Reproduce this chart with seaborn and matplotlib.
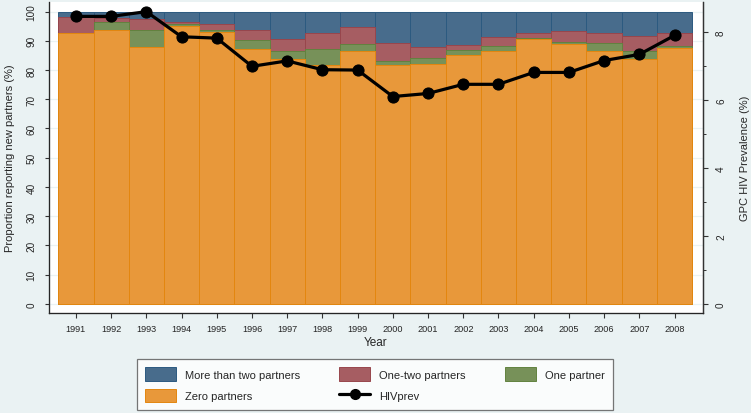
import numpy as np
import pandas as pd
import matplotlib
matplotlib.use("Agg")
import matplotlib.pyplot as plt
from matplotlib.patches import Patch
from matplotlib.lines import Line2D
from matplotlib.ticker import MultipleLocator
import seaborn as sns

# Data
years = list(range(1991, 2009))
zero_partners = [92.6, 93.7, 88.0, 95.2, 92.9, 87.1, 83.7, 81.8, 86.5,
                 81.7, 82.0, 85.3, 86.4, 90.6, 88.8, 86.5, 83.8, 87.5]
one_partner = [0.0, 2.9, 5.7, 0.6, 0.9, 3.3, 2.9, 5.4, 2.5,
               1.5, 2.0, 1.7, 2.0, 0.3, 0.9, 2.7, 2.6, 0.9]
one_two_partners = [5.5, 1.2, 3.8, 0.8, 2.1, 3.3, 4.2, 5.4, 5.8,
                    6.0, 3.8, 1.7, 2.8, 1.7, 3.6, 3.5, 5.2, 4.3]
more_than_two = [1.9, 2.2, 2.5, 3.4, 4.1, 6.3, 9.2, 7.4, 5.2,
                 10.8, 12.2, 11.3, 8.8, 7.4, 6.7, 7.3, 8.4, 7.3]
hiv_prev = [8.46, 8.46, 8.60, 7.86, 7.82, 6.99, 7.15, 6.89, 6.88,
            6.10, 6.19, 6.46, 6.46, 6.81, 6.81, 7.16, 7.34, 7.90]

df = pd.DataFrame({
    "year": [str(y) for y in years],
    "zero": zero_partners,
    "one": one_partner,
    "onetwo": one_two_partners,
    "more": more_than_two,
    "hiv": hiv_prev,
})
df["c1"] = df["zero"]
df["c2"] = df["c1"] + df["one"]
df["c3"] = df["c2"] + df["onetwo"]
df["c4"] = df["c3"] + df["more"]

sns.set_style("white")
plt.rcParams["font.family"] = ["Liberation Sans", "DejaVu Sans"]

bg = "#EAF2F3"
# (fill, outline) pairs, Stata s2color look
layers = [
    ("c4", "#486C8C", "#2C5A80", "More than two partners"),
    ("c3", "#A65D62", "#98464C", "One-two partners"),
    ("c2", "#779159", "#62823F", "One partner"),
    ("c1", "#E8983A", "#E3860F", "Zero partners"),
]

fig = plt.figure(figsize=(7.51, 4.14), dpi=100, facecolor=bg)
ax = fig.add_axes([49 / 751, (414 - 314) / 414, 653.7 / 751, 311 / 414])
ax.set_facecolor("white")

for col, fill, edge, _ in layers:
    sns.barplot(data=df, x="year", y=col, color=fill, saturation=1, width=1,
                edgecolor=edge, linewidth=0.7, ax=ax, zorder=2)

ax.set_xlim(-0.764, 17.8)
ax.set_ylim(-3.18, 103.3)
ax.set_yticks(np.arange(0, 101, 10))
ax.yaxis.grid(True, color=bg, linewidth=0.9, zorder=0)
ax.set_axisbelow(True)
ax.tick_params(axis="y", labelsize=7.2, length=3, width=0.8, color="#333333",
               pad=6, labelrotation=90, direction="out", left=True)
ax.tick_params(axis="x", labelsize=6.6, length=3.6, width=0.8, color="#333333",
               pad=4.5, direction="out", bottom=True)
for lab in ax.get_yticklabels():
    lab.set_va("center")
ax.set_xlabel("Year", fontsize=8.5, labelpad=2)
ax.set_ylabel("Proportion reporting new partners (%)", fontsize=8, labelpad=8)
for s in ["left", "bottom", "right"]:
    ax.spines[s].set_color("#333333")
    ax.spines[s].set_linewidth(0.9)
ax.spines["top"].set_visible(False)

ax2 = ax.twinx()
sns.lineplot(x=np.arange(len(years)), y=df["hiv"], color="black", linewidth=2.3,
             marker="o", markersize=8, markeredgecolor="black", ax=ax2, zorder=5)
ax2.set_xlim(-0.764, 17.8)
ax2.set_ylim(-3.18 * 8.6 / 100, 103.3 * 8.6 / 100)
ax2.set_yticks([0, 2, 4, 6, 8])
ax2.yaxis.set_minor_locator(MultipleLocator(1))
ax2.tick_params(axis="y", which="major", labelsize=7.2, length=3.6, width=0.8,
                color="#333333", pad=6, labelrotation=90, right=True)
ax2.tick_params(axis="y", which="minor", length=2, width=0.7, color="#333333", right=True)
for lab in ax2.get_yticklabels():
    lab.set_va("center")
ax2.set_ylabel("GPC HIV Prevalence (%)", fontsize=8, labelpad=10)
ax2.set_xlabel("")
ax2.spines["top"].set_visible(False)
ax2.spines["right"].set_color("#333333")
ax2.spines["right"].set_linewidth(0.9)

handles = {lbl: Patch(facecolor=fill, edgecolor=edge, linewidth=0.7)
           for _, fill, edge, lbl in layers}
hiv_handle = Line2D([], [], color="black", linewidth=2.3, marker="o", markersize=7)
order = [
    (handles["More than two partners"], "More than two partners"),
    (handles["Zero partners"], "Zero partners"),
    (handles["One-two partners"], "One-two partners"),
    (hiv_handle, "HIVprev"),
    (handles["One partner"], "One partner"),
]
leg = fig.legend([h for h, _ in order], [l for _, l in order], ncol=3,
                 loc="upper left", mode="expand",
                 bbox_to_anchor=(137 / 751, 1 - 410 / 414, 476 / 751, 50 / 414),
                 borderaxespad=0, fontsize=8, frameon=True, fancybox=False,
                 edgecolor="#555555", handlelength=2.8, handleheight=1.45,
                 handletextpad=0.8, columnspacing=2.6, borderpad=0.75,
                 labelspacing=0.75)
leg.get_frame().set_linewidth(0.9)

fig.savefig("out.png", dpi=100, facecolor=bg)
